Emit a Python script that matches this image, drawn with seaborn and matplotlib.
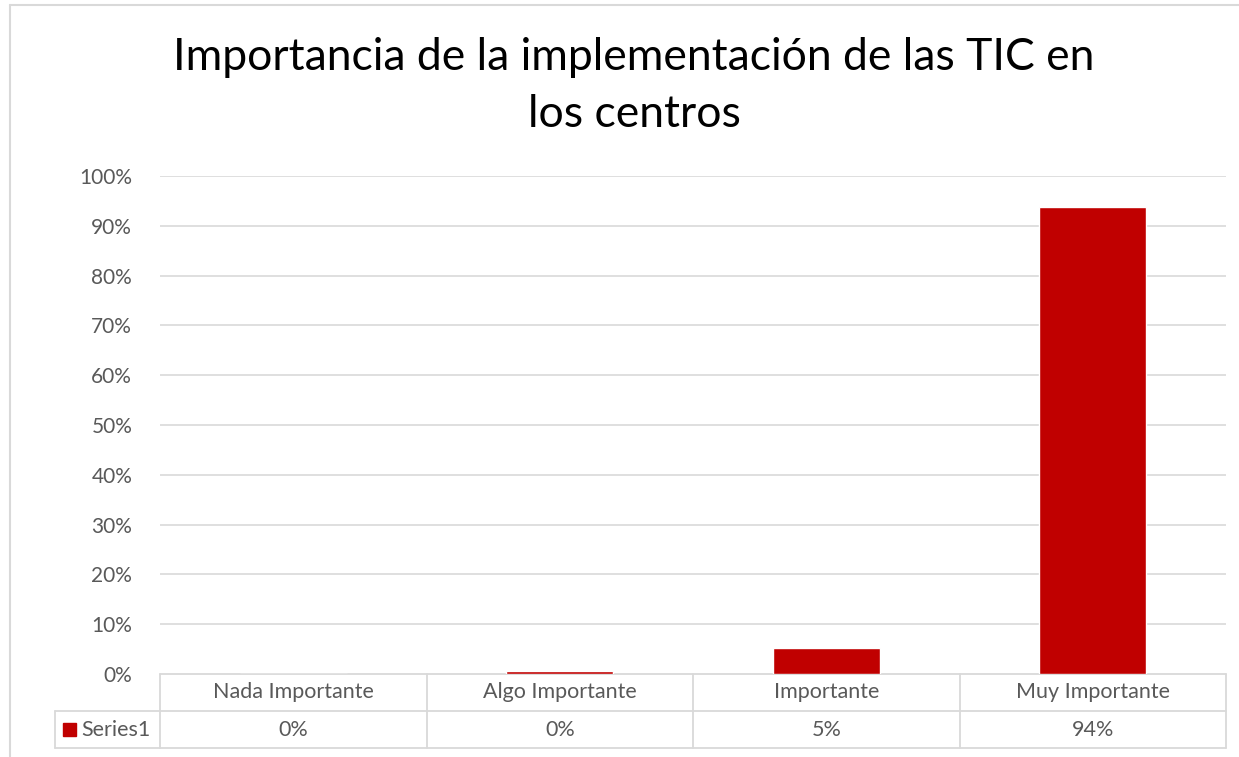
import numpy as np
import pandas as pd
import seaborn as sns
import matplotlib.pyplot as plt
from matplotlib.patches import Rectangle

categories = ['Nada Importante', 'Algo Importante', 'Importante', 'Muy Importante']
values = [0.0, 0.6, 5.2, 93.8]
table_labels = ['0%', '0%', '5%', '94%']
series_name = 'Series1'
title = 'Importancia de la implementación de las TIC en\nlos centros'

BAR = '#c00000'
GRID = '#d9d9d9'
TXT = '#595959'

sns.set_theme(style='white')
plt.rcParams['font.family'] = ['Lato', 'DejaVu Sans']

W, H = 1239, 757
fig = plt.figure(figsize=(W / 100, H / 100), dpi=100)
ax = fig.add_axes([160 / W, (H - 674) / H, (1226 - 160) / W, (674 - 176) / H])

df = pd.DataFrame({'cat': categories, 'val': values})
sns.barplot(data=df, x='cat', y='val', color=BAR, saturation=1, width=0.4,
            ax=ax, zorder=3)

ax.set_ylim(0, 100)
ax.set_xlim(-0.5, 3.5)
ax.set_yticks(np.arange(0, 101, 10))
ax.set_yticklabels([f'{t}%' for t in range(0, 101, 10)], color=TXT, fontsize=15)
ax.tick_params(axis='y', length=0, pad=20)
ax.set_xticks([])
ax.set_xlabel('')
ax.set_ylabel('')
for t in range(10, 101, 10):
    ax.axhline(t, color=GRID, lw=1.2, zorder=0)
for s in ax.spines.values():
    s.set_visible(False)

# data table under the axis
row_h = (711 - 674) / (674 - 176)
lk = dict(color=GRID, lw=1.3, clip_on=False, transform=ax.transAxes, zorder=1)
for k in range(3):
    ax.plot([0, 1], [-k * row_h, -k * row_h], **lk)
left = -(162 - 57) / (1226 - 160)
ax.plot([left, 0], [-row_h, -row_h], **lk)
ax.plot([left, 0], [-2 * row_h, -2 * row_h], **lk)
ax.plot([left, left], [-row_h, -2 * row_h], **lk)
for k in range(5):
    ax.plot([k / 4, k / 4], [0, -2 * row_h], **lk)

for i, (c, v) in enumerate(zip(categories, table_labels)):
    xc = (i + 0.5) / 4
    ax.text(xc, -0.5 * row_h, c, ha='center', va='center', color=TXT,
            fontsize=15.5, transform=ax.transAxes)
    ax.text(xc, -1.5 * row_h, v, ha='center', va='center', color=TXT,
            fontsize=15.5, transform=ax.transAxes)

sq = 13 / (1226 - 160)
sq_h = 13 / (674 - 176)
ax.add_patch(Rectangle((left + 8 / 1066, -1.5 * row_h - sq_h / 2), sq, sq_h,
                       color=BAR, transform=ax.transAxes, clip_on=False))
ax.text(left + 26 / 1066, -1.5 * row_h, series_name, ha='left', va='center',
        color=TXT, fontsize=15.5, transform=ax.transAxes)

# outer chart border
fig.add_artist(plt.Line2D([10 / W, 10 / W], [0, 1 - 5 / H], color=GRID, lw=1.5))
fig.add_artist(plt.Line2D([10 / W, 1], [1 - 5 / H, 1 - 5 / H], color=GRID, lw=1.5))

fig.text(634 / W, 1 - 86 / H, title, ha='center', va='center', fontsize=32,
         color='#000000', linespacing=1.5)

fig.savefig('out.png', dpi=100)
